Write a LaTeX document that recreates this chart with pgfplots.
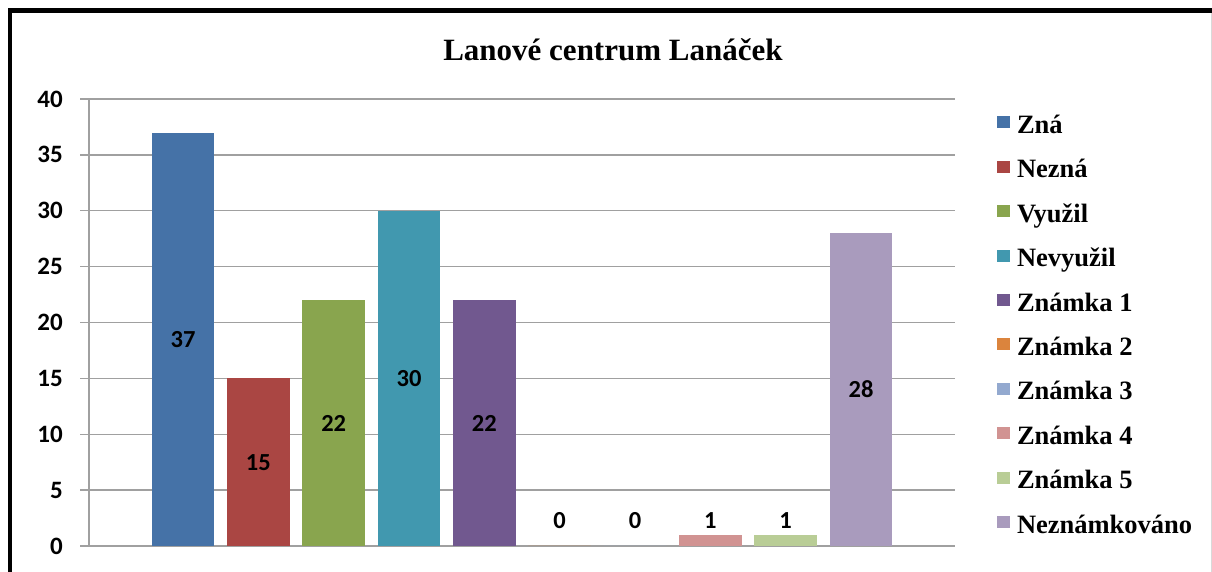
\documentclass[border=0pt]{standalone}
\usepackage{pgfplots}
\pgfplotsset{compat=1.18}
\usepackage{fontspec}
\setmainfont{Liberation Serif}
\newfontfamily\carlito{Carlito}
\definecolor{c1}{HTML}{4572A7}
\definecolor{c2}{HTML}{AA4643}
\definecolor{c3}{HTML}{89A54E}
\definecolor{c4}{HTML}{4198AF}
\definecolor{c5}{HTML}{71588F}
\definecolor{c6}{HTML}{DB843D}
\definecolor{c7}{HTML}{93A9CF}
\definecolor{c8}{HTML}{D19392}
\definecolor{c9}{HTML}{B9CD96}
\definecolor{c10}{HTML}{A99BBD}
\definecolor{gridc}{HTML}{A0A0A0}
\begin{document}
\begin{tikzpicture}[x=1pt,y=1pt]
\fill[white] (0,0) rectangle (1212,572);
\path[use as bounding box] (0,0) rectangle (1212,572);
\begin{axis}[
  at={(89pt,26pt)}, anchor=south west,
  scale only axis, width=866pt, height=447pt,
  ybar, bar width=0.83, bar shift=0pt,
  xmin=-1.248, xmax=10.248,
  ymin=0, ymax=40, ytick={0,5,...,40},
  xtick=\empty,
  axis x line=none, axis y line=left,
  axis line style={-, draw=gridc, line width=1.3pt},
  ymajorgrids, major grid style={draw=gridc, line width=1.3pt},
  tick align=outside, major tick length=9pt,
  tick style={draw=gridc, line width=1.3pt},
  /pgf/number format/assume math mode=true,
  yticklabel style={font=\carlito\bfseries\fontsize{25}{25}\selectfont, inner sep=0pt, xshift=-17pt},
  title={Lanové centrum Lanáček},
  title style={font=\bfseries\fontsize{31}{31}\selectfont, at={(rel axis cs:0.605,1.0716)}, anchor=base},
  legend cell align=left,
  legend style={draw=none, fill=none, inner sep=0pt, outer sep=0pt,
    at={(rel axis cs:1.0485,0.9631)}, anchor=north west,
    font=\bfseries\fontsize{26.5}{26.5}\selectfont,
    nodes={inner sep=0pt, text height=18pt, text depth=6pt},
    row sep=20.4pt, column sep=7pt},
  legend image code/.code={\fill[#1,draw=none] (0pt,-1pt) rectangle (13pt,11pt);},
  nodes near coords style={font=\carlito\bfseries\fontsize{24.5}{24.5}\selectfont},
]
\addplot[fill=c1, draw=none] coordinates {(0,37)}; \addlegendentry{Zná}
\addplot[fill=c2, draw=none] coordinates {(1,15)}; \addlegendentry{Nezná}
\addplot[fill=c3, draw=none] coordinates {(2,22)}; \addlegendentry{Využil}
\addplot[fill=c4, draw=none] coordinates {(3,30)}; \addlegendentry{Nevyužil}
\addplot[fill=c5, draw=none] coordinates {(4,22)}; \addlegendentry{Známka 1}
\addplot[fill=c6, draw=none] coordinates {(5,0)}; \addlegendentry{Známka 2}
\addplot[fill=c7, draw=none] coordinates {(6,0)}; \addlegendentry{Známka 3}
\addplot[fill=c8, draw=none] coordinates {(7,1)}; \addlegendentry{Známka 4}
\addplot[fill=c9, draw=none] coordinates {(8,1)}; \addlegendentry{Známka 5}
\addplot[fill=c10, draw=none] coordinates {(9,28)}; \addlegendentry{Neznámkováno}
\addplot[forget plot, draw=none, fill=none, nodes near coords, point meta=explicit symbolic,
  every node near coord/.append style={anchor=center}]
  coordinates {(0,18.5)[37] (1,7.5)[15] (2,11)[22] (3,15)[30] (4,11)[22]
               (5,2.3)[0] (6,2.3)[0] (7,2.3)[1] (8,2.3)[1] (9,14)[28]};
\end{axis}
\draw[line width=4.5pt, line join=miter] (10,0) -- (10,561.5) -- (1212,561.5);
\draw[black!15, line width=1pt] (1211,559) -- (1211,0);
\end{tikzpicture}
\end{document}
